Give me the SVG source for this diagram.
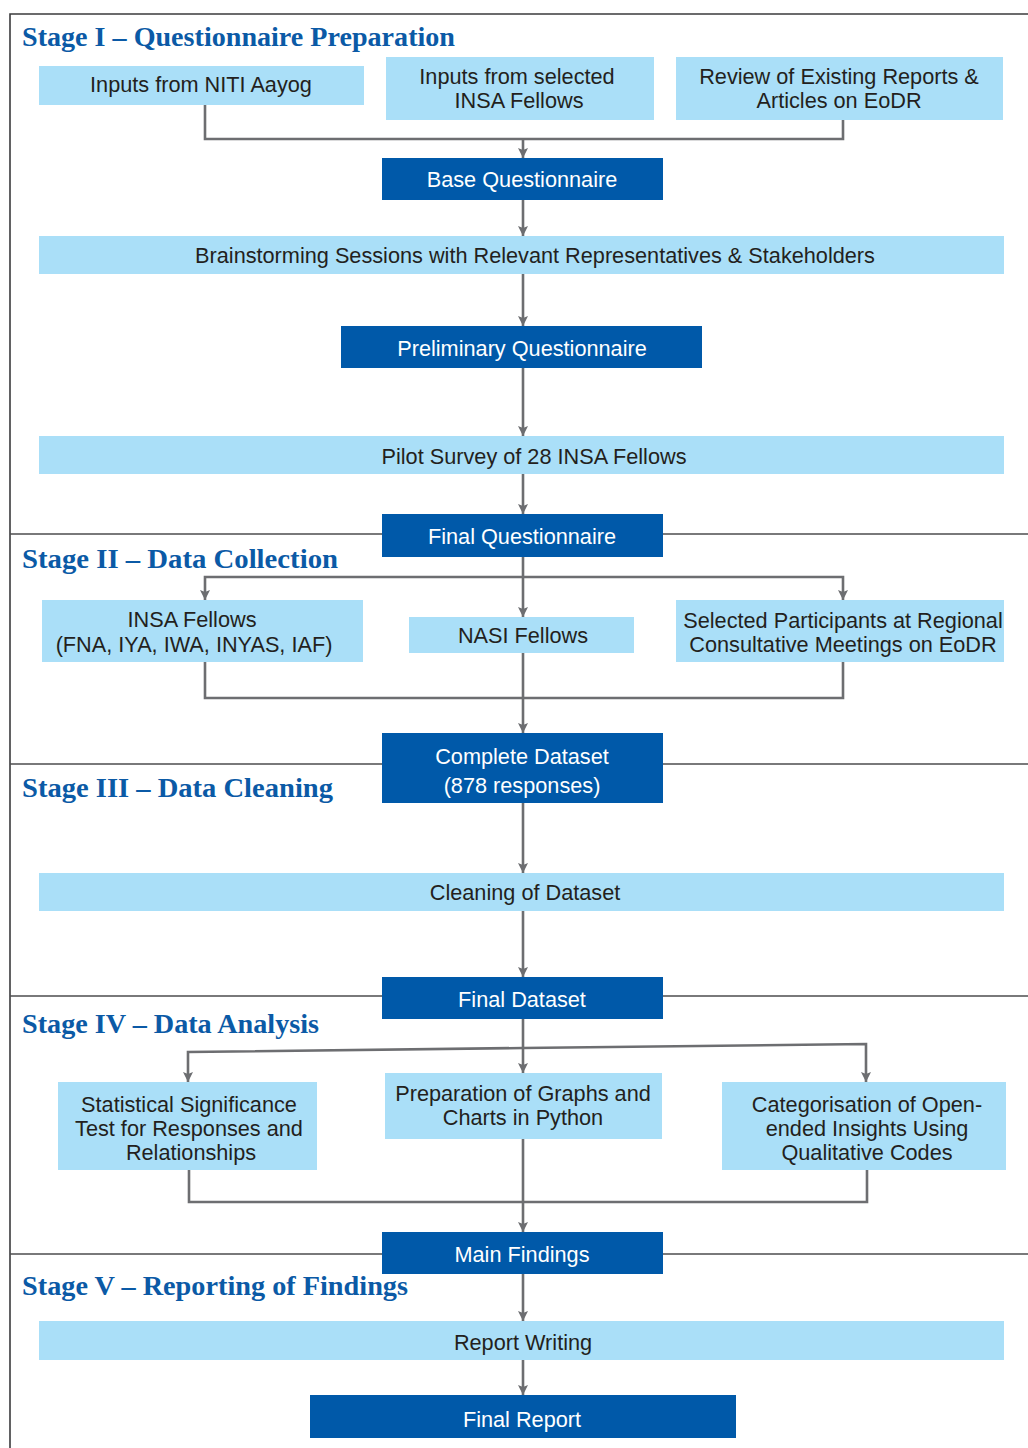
<svg xmlns="http://www.w3.org/2000/svg" width="1028" height="1448" viewBox="0 0 1028 1448">
<style>
.frame{stroke:#3b3b3d;stroke-width:1.6;fill:none}
.div{stroke:#4d4d4f;stroke-width:1.6;fill:none}
.lb{fill:#aadff8}
.db{fill:#0059a9}
.t{font-family:"Liberation Sans",Arial,sans-serif;font-size:21.7px;fill:#231f20;text-anchor:middle}
.tw{font-family:"Liberation Sans",Arial,sans-serif;font-size:21.7px;fill:#ffffff;text-anchor:middle}
.st{font-family:"Liberation Serif","Times New Roman",serif;font-size:27px;font-weight:bold;fill:#0b5aa6}
.c{stroke:#6d6e71;stroke-width:2.6;fill:none}
.a{stroke:#6d6e71;stroke-width:2.6;fill:none;marker-end:url(#ah)}
</style>
<defs>
<marker id="ah" viewBox="0 0 10 10" refX="10" refY="5" markerWidth="10" markerHeight="10" markerUnits="userSpaceOnUse" orient="auto">
<path d="M0,0 L10,5 L0,10 L2,5 z" fill="#6d6e71"/>
</marker>
</defs>
<rect width="1028" height="1448" fill="#ffffff"/>
<g id="frame">
<path class="frame" d="M1028,14 H10 V1448"/>
<path class="div" d="M10,534 H1028 M10,764 H1028 M10,996 H1028 M10,1254 H1028"/>
</g>
<g id="stage-titles">
<text class="st" x="22" y="46" textLength="433" lengthAdjust="spacingAndGlyphs">Stage I – Questionnaire Preparation</text>
<text class="st" x="22" y="568" textLength="316" lengthAdjust="spacingAndGlyphs">Stage II – Data Collection</text>
<text class="st" x="22" y="797" textLength="311" lengthAdjust="spacingAndGlyphs">Stage III – Data Cleaning</text>
<text class="st" x="22" y="1033" textLength="297" lengthAdjust="spacingAndGlyphs">Stage IV – Data Analysis</text>
<text class="st" x="22" y="1295" textLength="386" lengthAdjust="spacingAndGlyphs">Stage V – Reporting of Findings</text>
</g>
<g id="connectors">
<path class="c" d="M205,105 V139 H843 V120"/>
<path class="a" d="M523,139 V158"/>
<path class="a" d="M523,200 V236"/>
<path class="a" d="M523,274 V326"/>
<path class="a" d="M523,368 V436"/>
<path class="a" d="M523,474 V514"/>
<path class="a" d="M523,557 V617"/>
<path class="a" d="M523,577 H205 V600"/>
<path class="a" d="M523,577 H843 V600"/>
<path class="c" d="M205,662 V698 H843 V662"/>
<path class="a" d="M523,653 V733"/>
<path class="a" d="M523,803 V873"/>
<path class="a" d="M523,911 V977"/>
<path class="a" d="M523,1019 V1073"/>
<path class="a" d="M523,1048 L188,1052 V1082"/>
<path class="a" d="M523,1048 L866,1044 V1082"/>
<path class="c" d="M189,1170 V1202 H867 V1170"/>
<path class="a" d="M523,1139 V1232"/>
<path class="a" d="M523,1274 V1321"/>
<path class="a" d="M523,1360 V1395"/>
</g>
<g id="n-niti"><rect class="lb" x="39" y="66" width="325" height="39"/><text class="t" x="201" y="92">Inputs from NITI Aayog</text></g>
<g id="n-insa-sel"><rect class="lb" x="386" y="57" width="268" height="63"/><text class="t" x="517" y="84">Inputs from selected</text><text class="t" x="519" y="108">INSA Fellows</text></g>
<g id="n-review"><rect class="lb" x="676" y="57" width="327" height="63"/><text class="t" x="839" y="84">Review of Existing Reports &amp;</text><text class="t" x="839" y="108">Articles on EoDR</text></g>
<g id="n-base"><rect class="db" x="382" y="158" width="281" height="42"/><text class="tw" x="522" y="187">Base Questionnaire</text></g>
<g id="n-brain"><rect class="lb" x="39" y="236" width="965" height="38"/><text class="t" x="535" y="263">Brainstorming Sessions with Relevant Representatives &amp; Stakeholders</text></g>
<g id="n-prelim"><rect class="db" x="341" y="326" width="361" height="42"/><text class="tw" x="522" y="356">Preliminary Questionnaire</text></g>
<g id="n-pilot"><rect class="lb" x="39" y="436" width="965" height="38"/><text class="t" x="534" y="464">Pilot Survey of 28 INSA Fellows</text></g>
<g id="n-finalq"><rect class="db" x="382" y="514" width="281" height="43"/><text class="tw" x="522" y="544">Final Questionnaire</text></g>
<g id="n-insa"><rect class="lb" x="42" y="600" width="321" height="62"/><text class="t" x="192" y="627">INSA Fellows</text><text class="t" x="194" y="652">(FNA, IYA, IWA, INYAS, IAF)</text></g>
<g id="n-nasi"><rect class="lb" x="409" y="617" width="225" height="36"/><text class="t" x="523" y="643">NASI Fellows</text></g>
<g id="n-selected"><rect class="lb" x="676" y="600" width="328" height="62"/><text class="t" x="843" y="628">Selected Participants at Regional</text><text class="t" x="843" y="652">Consultative Meetings on EoDR</text></g>
<g id="n-complete"><rect class="db" x="382" y="733" width="281" height="70"/><text class="tw" x="522" y="764">Complete Dataset</text><text class="tw" x="522" y="793">(878 responses)</text></g>
<g id="n-cleaning"><rect class="lb" x="39" y="873" width="965" height="38"/><text class="t" x="525" y="900">Cleaning of Dataset</text></g>
<g id="n-finald"><rect class="db" x="382" y="977" width="281" height="42"/><text class="tw" x="522" y="1007">Final Dataset</text></g>
<g id="n-stat"><rect class="lb" x="58" y="1082" width="259" height="88"/><text class="t" x="189" y="1112">Statistical Significance</text><text class="t" x="189" y="1136">Test for Responses and</text><text class="t" x="191" y="1160">Relationships</text></g>
<g id="n-graphs"><rect class="lb" x="385" y="1073" width="277" height="66"/><text class="t" x="523" y="1101">Preparation of Graphs and</text><text class="t" x="523" y="1125">Charts in Python</text></g>
<g id="n-categ"><rect class="lb" x="722" y="1082" width="284" height="88"/><text class="t" x="867" y="1112">Categorisation of Open-</text><text class="t" x="867" y="1136">ended Insights Using</text><text class="t" x="867" y="1160">Qualitative Codes</text></g>
<g id="n-main"><rect class="db" x="382" y="1232" width="281" height="42"/><text class="tw" x="522" y="1262">Main Findings</text></g>
<g id="n-report"><rect class="lb" x="39" y="1321" width="965" height="39"/><text class="t" x="523" y="1350">Report Writing</text></g>
<g id="n-final"><rect class="db" x="310" y="1395" width="426" height="43"/><text class="tw" x="522" y="1427">Final Report</text></g>
</svg>
